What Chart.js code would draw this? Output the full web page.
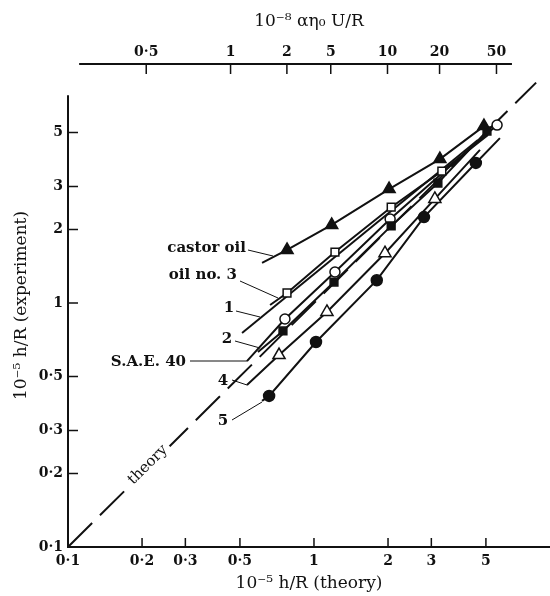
<!DOCTYPE html>
<html>
<head>
<meta charset="utf-8">
<script src="https://cdn.jsdelivr.net/npm/chart.js@4.4.0/dist/chart.umd.min.js"></script>
<style>
  body { margin: 0; background: #fff; }
  canvas { display: block; }
</style>
</head>
<body>
<canvas id="filmChart" width="550" height="596"></canvas>
<script>
// tick values / labels (same decades on both h/R axes)
const axisTicks = [0.1, 0.2, 0.3, 0.5, 1, 2, 3, 5];
const axisTickLabels = ['0·1', '0·2', '0·3', '0·5', '1', '2', '3', '5'];
// top scale: where each alpha*eta0*U/R tick falls on the theory axis
const topTickAt = [0.208, 0.458, 0.776, 1.17, 1.99, 3.24, 5.52];
const topTickLabels = ['0·5', '1', '2', '5', '10', '20', '50'];

const theoryX = [0.1, 8];
const theoryY = [0.1, 8];

// measured points + where each fitted line starts / ends
const castorX = [0.777, 1.18, 2.02, 3.25, 4.91];
const castorY = [1.65, 2.09, 2.93, 3.89, 5.31];
const castorLine = [[0.615, 1.46], null];

const oil3X = [0.777, 1.217, 2.06, 3.31];
const oil3Y = [1.099, 1.618, 2.47, 3.47];
const oil3Line = [[0.663, 0.981], [5.10, 4.88]];

const oil1Line = [[0.51, 0.753], [4.64, 4.66]];

const oil2X = [0.748, 1.206, 2.06, 3.19, 5.05];
const oil2Y = [0.768, 1.219, 2.07, 3.10, 5.07];
const oil2Line = [[0.592, 0.63], null];

const saeX = [0.762, 1.217, 2.04, 5.55];
const saeY = [0.86, 1.34, 2.21, 5.36];
const saeLine = [[0.534, 0.578], null];

const oil4X = [0.721, 1.129, 1.944, 3.10];
const oil4Y = [0.612, 0.919, 1.60, 2.67];
const oil4Line = [[0.534, 0.461], [4.73, 4.24]];

const oil5X = [0.657, 1.019, 1.80, 2.80, 4.55];
const oil5Y = [0.416, 0.692, 1.24, 2.25, 3.75];
const oil5Line = [[0.615, 0.397], [5.70, 4.74]];

const INK = '#111';
const serif = 'DejaVu Serif';

function points(xs, ys) {
  return xs.map((x, i) => ({x: x, y: ys[i]}));
}

// fitted line: start, through the markers, to the end
function fitLine(xs, ys, ends) {
  let pts = points(xs, ys);
  if (ends[0]) pts.unshift({x: ends[0][0], y: ends[0][1]});
  if (ends[1]) pts.push({x: ends[1][0], y: ends[1][1]});
  return {
    data: pts,
    showLine: true,
    borderColor: INK,
    borderWidth: 2,
    pointRadius: 0,
    order: 2
  };
}

function markers(xs, ys, style, filled, r) {
  return {
    data: points(xs, ys),
    showLine: false,
    pointStyle: style,
    pointRadius: r,
    pointBackgroundColor: filled ? INK : '#fff',
    pointBorderColor: INK,
    pointBorderWidth: 1.5,
    order: 1
  };
}

// labels and leader lines of the original drawing (canvas px)
const notes = [
  {text: 'castor oil', x: 246, y: 248, align: 'right', line: [248, 250, 273, 256]},
  {text: 'oil no. 3', x: 237, y: 275, align: 'right', line: [240, 281, 278, 298]},
  {text: '1', x: 229, y: 308, align: 'center', line: [236, 311, 260, 317]},
  {text: '2', x: 227, y: 339, align: 'center', line: [235, 341, 260, 348]},
  {text: 'S.A.E. 40', x: 186, y: 362, align: 'right', line: [190, 361, 247, 361]},
  {text: '4', x: 223, y: 381, align: 'center', line: [232, 380, 247, 385]},
  {text: '5', x: 223, y: 421, align: 'center', line: [232, 420, 262, 402]}
];

const decorations = {
  id: 'decorations',
  afterDraw(chart) {
    const c = chart.ctx;
    const xs = chart.scales.x, ys = chart.scales.y, top = chart.scales.x2;
    c.save();
    c.strokeStyle = INK;
    c.fillStyle = INK;

    // axis lines
    c.lineWidth = 2;
    c.beginPath();
    c.moveTo(xs.getPixelForValue(0.1), ys.getPixelForValue(7.1));
    c.lineTo(xs.getPixelForValue(0.1), ys.getPixelForValue(0.1));
    c.lineTo(xs.right, ys.getPixelForValue(0.1));
    c.moveTo(top.getPixelForValue(0.111), top.bottom);
    c.lineTo(top.getPixelForValue(6.38), top.bottom);
    c.stroke();

    // inward tick marks
    c.lineWidth = 1.5;
    c.beginPath();
    axisTicks.slice(1).forEach(v => {
      const px = xs.getPixelForValue(v);
      c.moveTo(px, xs.top); c.lineTo(px, xs.top - 9);
      const py = ys.getPixelForValue(v);
      c.moveTo(ys.right, py); c.lineTo(ys.right + 10, py);
    });
    topTickAt.forEach(v => {
      const px = top.getPixelForValue(v);
      c.moveTo(px, top.bottom); c.lineTo(px, top.bottom + 10);
    });
    c.stroke();

    // theory label sitting in a gap of the dashed line
    const ax = xs.getPixelForValue(0.1), ay = ys.getPixelForValue(0.1);
    const bx = xs.getPixelForValue(8), by = ys.getPixelForValue(8);
    const ang = Math.atan2(by - ay, bx - ax);
    c.save();
    c.translate(xs.getPixelForValue(0.214), ys.getPixelForValue(0.214));
    c.rotate(ang);
    c.font = '15px "' + serif + '"';
    c.textAlign = 'center';
    c.textBaseline = 'middle';
    const w = c.measureText('theory').width;
    c.fillStyle = '#fff';
    c.fillRect(-w / 2 - 4, -6, w + 8, 12);
    c.fillStyle = INK;
    c.fillText('theory', 0, -2);
    c.restore();

    // oil labels
    c.font = 'bold 15px "' + serif + '"';
    c.textBaseline = 'middle';
    c.lineWidth = 1;
    notes.forEach(n => {
      c.textAlign = n.align;
      c.fillText(n.text, n.x, n.y);
      c.beginPath();
      c.moveTo(n.line[0], n.line[1]);
      c.lineTo(n.line[2], n.line[3]);
      c.stroke();
    });
    c.restore();
  }
};

const tickFont = {family: serif, size: 14, weight: 'bold'};
const titleFont = {family: serif, size: 17};

// keep the plot area flush with the canvas edge
function fixHeight(h) {
  return s => { s.height = h; s.paddingLeft = 0; s.paddingRight = 0; };
}

const filmChart = new Chart(document.getElementById('filmChart').getContext('2d'), {
  type: 'scatter',
  data: {
    datasets: [
      markers(castorX, castorY, 'triangle', true, 7),
      markers(oil3X, oil3Y, 'rect', false, 5.5),
      markers(oil2X, oil2Y, 'rect', true, 5.5),
      markers(saeX, saeY, 'circle', false, 5),
      markers(oil4X, oil4Y, 'triangle', false, 7),
      markers(oil5X, oil5Y, 'circle', true, 5.5),
      fitLine(castorX, castorY, castorLine),
      fitLine(oil3X, oil3Y, oil3Line),
      fitLine([], [], oil1Line),
      fitLine(oil2X, oil2Y, oil2Line),
      fitLine(saeX, saeY, saeLine),
      fitLine(oil4X, oil4Y, oil4Line),
      fitLine(oil5X, oil5Y, oil5Line),
      {
        data: points(theoryX, theoryY),
        showLine: true,
        borderColor: INK,
        borderWidth: 2,
        borderDash: [34, 11],
        pointRadius: 0,
        order: 3
      }
    ]
  },
  plugins: [decorations],
  options: {
    responsive: false,
    animation: false,
    devicePixelRatio: 1,
    layout: {padding: 0, autoPadding: false},
    plugins: {
      legend: {display: false},
      tooltip: {enabled: false}
    },
    scales: {
      x: {
        type: 'logarithmic',
        position: 'bottom',
        min: 0.1,
        max: 9.11,
        grid: {display: false, drawTicks: false},
        border: {display: false},
        afterBuildTicks: s => { s.ticks = axisTicks.map(v => ({value: v})); },
        afterFit: fixHeight(49),
        ticks: {
          autoSkip: false,
          maxRotation: 0,
          padding: 6,
          color: INK,
          font: tickFont,
          callback: (v, i) => axisTickLabels[i]
        },
        title: {
          display: true,
          text: '10⁻⁵ h/R (theory)',
          color: INK,
          font: titleFont,
          padding: {top: 0, bottom: 2}
        }
      },
      x2: {
        type: 'logarithmic',
        position: 'top',
        min: 0.1,
        max: 9.11,
        grid: {display: false, drawTicks: false},
        border: {display: false},
        afterBuildTicks: s => { s.ticks = topTickAt.map(v => ({value: v})); },
        afterFit: fixHeight(64),
        ticks: {
          autoSkip: false,
          maxRotation: 0,
          padding: 3,
          color: INK,
          font: tickFont,
          callback: (v, i) => topTickLabels[i]
        },
        title: {
          display: true,
          text: '10⁻⁸ αη₀ U/R',
          color: INK,
          font: titleFont,
          padding: {top: 11, bottom: 0}
        }
      },
      y: {
        type: 'logarithmic',
        min: 0.1,
        max: 9.54,
        grid: {display: false, drawTicks: false},
        border: {display: false},
        afterBuildTicks: s => { s.ticks = axisTicks.map(v => ({value: v})); },
        afterFit: s => { s.width = 68; s.paddingTop = 0; s.paddingBottom = 0; },
        ticks: {
          autoSkip: false,
          padding: 5,
          color: INK,
          font: tickFont,
          callback: (v, i) => axisTickLabels[i]
        },
        title: {
          display: true,
          text: '10⁻⁵ h/R (experiment)',
          color: INK,
          font: titleFont,
          padding: {top: 11, bottom: 0}
        }
      }
    }
  }
});
</script>
</body>
</html>
